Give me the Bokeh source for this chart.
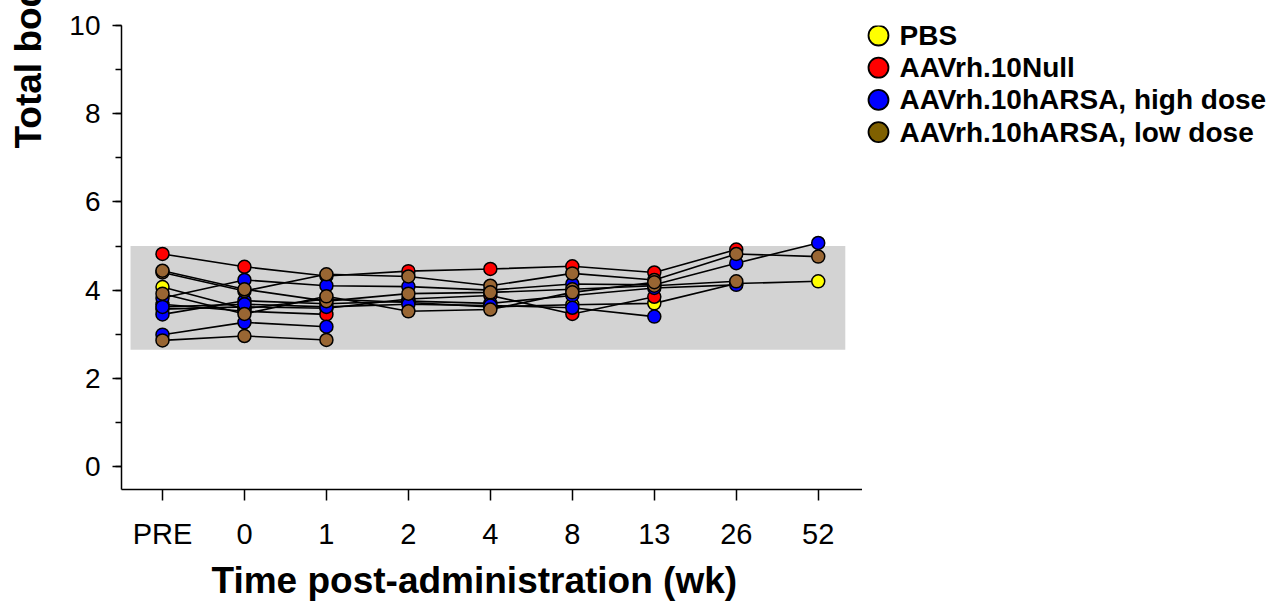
import math
from bokeh.plotting import figure
from bokeh.layouts import row
from bokeh.models import Range1d, FixedTicker, SingleIntervalTicker, Title
from bokeh.core.properties import value
from bokeh.embed import file_html
from bokeh.resources import INLINE

nan = float("nan")

# ---- data ----
time_labels = ["PRE", "0", "1", "2", "4", "8", "13", "26", "52"]

pbs_a = [4.07, 3.58, 3.80, 3.72, 3.62, 3.67, 3.70, 4.15, 4.20]

null_a = [4.82, 4.53, 4.32, 4.43, 4.48, 4.54, 4.40, 4.92, nan]
null_b = [3.57, 3.62, 3.59, 3.80, 3.88, 3.46, 3.85, nan, nan]
null_c = [3.68, 3.52, 3.45, nan, nan, nan, nan, nan, nan]

high_a = [3.82, 4.23, 4.10, 4.08, 4.00, 4.14, 4.12, 4.61, 5.07]
high_b = [3.45, 3.76, 3.69, 3.75, 3.70, 3.88, 4.05, 4.12, nan]
high_c = [2.99, 3.27, 3.17, nan, nan, nan, nan, nan, nan]
high_d = [3.62, 3.68, 3.62, 3.68, 3.65, 3.60, 3.40, nan, nan]

low_a = [4.40, 3.98, 4.36, 4.31, 4.10, 4.38, 4.23, 4.82, 4.76]
low_b = [4.44, 4.02, 3.75, 3.92, 3.95, 4.02, 4.10, 4.20, nan]
low_c = [3.92, 3.46, 3.86, 3.52, 3.56, 3.95, 4.18, nan, nan]
low_d = [2.86, 2.96, 2.87, nan, nan, nan, nan, nan, nan]

normal_low = 2.65
normal_high = 5.0

group_names = ["PBS", "AAVrh.10Null", "AAVrh.10hARSA, high dose", "AAVrh.10hARSA, low dose"]
group_colors = ["#FFFF00", "#FF0000", "#0000FF", "#996633"]
legend_colors = ["#FFFF00", "#FF0000", "#0000FF", "#7F6000"]
groups = [
    [pbs_a],
    [null_a, null_b, null_c],
    [high_a, high_b, high_c, high_d],
    [low_a, low_b, low_c, low_d],
]

FONT = "Liberation Sans"
TOP, BOTTOM = 25, 118
LEFT_W = 50

# ---- y-title strip (left) ----
lf = figure(width=LEFT_W, height=607, output_backend="svg", toolbar_location=None,
            x_range=Range1d(0, 1), y_range=Range1d(0, 1),
            min_border_left=LEFT_W - 1, min_border_right=0, min_border_top=TOP,
            min_border_bottom=BOTTOM, x_axis_location=None, y_axis_location=None)
lf.grid.visible = False
lf.outline_line_color = None
yt = Title(text="Total body weight (kg)", align="left", offset=341,
           text_font=FONT, text_font_size="37px", text_font_style="bold",
           text_color="black", standoff=2)
lf.add_layout(yt, "left")

# ---- main plot ----
p = figure(width=862 - LEFT_W, height=607, output_backend="svg", toolbar_location=None,
           x_range=Range1d(-0.5, 8.54), y_range=Range1d(-0.52, 10.0),
           min_border_left=121 - LEFT_W, min_border_right=0, min_border_top=TOP,
           min_border_bottom=BOTTOM)
p.outline_line_color = None
p.grid.visible = False
p.background_fill_color = "white"

# normal range band
p.quad(left=[-0.39], right=[8.33], bottom=[normal_low], top=[normal_high],
       fill_color="#D3D3D3", line_color=None)

xs_all = list(range(len(time_labels)))
for animals in groups:
    for vals in animals:
        xs = [x for x, v in zip(xs_all, vals) if not math.isnan(v)]
        ys = [v for v in vals if not math.isnan(v)]
        p.line(xs, ys, line_color="black", line_width=1.6)

for animals, col in zip(groups, group_colors):
    for vals in animals:
        xs = [x for x, v in zip(xs_all, vals) if not math.isnan(v)]
        ys = [v for v in vals if not math.isnan(v)]
        p.scatter(xs, ys, size=13, fill_color=col, line_color="black", line_width=1.5)

# x axis
xa = p.xaxis[0]
xa.ticker = FixedTicker(ticks=xs_all)
xa.major_label_overrides = {i: t for i, t in enumerate(time_labels)}
xa.major_tick_out = 11
xa.major_tick_in = 0
xa.minor_tick_out = 0
xa.minor_tick_in = 0
xa.axis_line_width = 1.5
xa.major_tick_line_width = 1.5
xa.major_label_text_font = FONT
xa.major_label_text_font_size = "29px"
xa.major_label_text_color = "black"
xa.major_label_standoff = 17

# y axis
ya = p.yaxis[0]
ya.ticker = SingleIntervalTicker(interval=2, num_minor_ticks=2)
ya.major_tick_out = 9
ya.major_tick_in = 0
ya.minor_tick_out = 6
ya.minor_tick_in = 0
ya.axis_line_width = 1.5
ya.major_tick_line_width = 1.5
ya.minor_tick_line_width = 1.5
ya.major_label_text_font = FONT
ya.major_label_text_font_size = "28px"
ya.major_label_text_color = "black"
ya.major_label_standoff = 12

# x axis title
xt = Title(text="Time post-administration (wk)", align="left", offset=90,
           text_font=FONT, text_font_size="37px", text_font_style="bold",
           text_color="black", standoff=10)
p.add_layout(xt, "below")

# ---- legend panel ----
lg = figure(width=420, height=607, output_backend="svg", toolbar_location=None,
            x_range=Range1d(0, 420), y_range=Range1d(607 - BOTTOM, TOP),
            min_border_left=0, min_border_right=0, min_border_top=TOP,
            min_border_bottom=BOTTOM, x_axis_location=None, y_axis_location=None)
lg.grid.visible = False
lg.outline_line_color = None

leg_y = [35 + i * 32.2 for i in range(len(group_names))]
lg.scatter([16] * len(group_names), leg_y, size=20, fill_color=legend_colors,
           line_color="black", line_width=1.8)
lg.text([37] * len(group_names), leg_y, text=group_names,
        text_font=value(FONT), text_font_style="bold", text_font_size="28px",
        text_baseline="middle", text_align="left", text_color="black")

layout = row(lf, p, lg)
open("out.html", "w").write(file_html(layout, INLINE))
